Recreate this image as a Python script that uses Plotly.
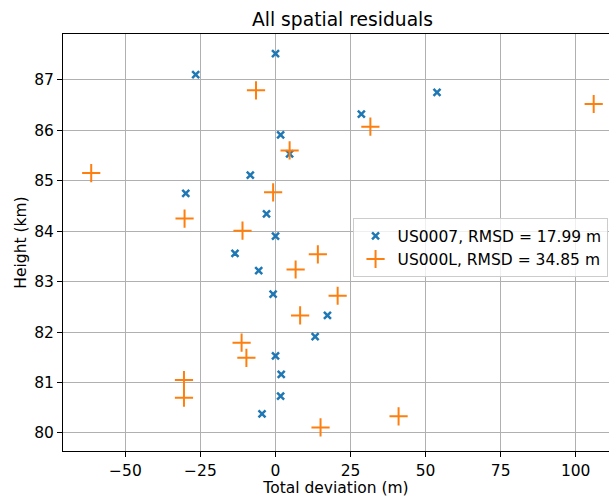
import plotly.graph_objects as go

# US0007 (blue x markers)
us0007_dev = [0.0, -26.6, 53.8, 28.6, 1.7, 4.7, -8.4, -29.9, -3.0, 0.0,
              -13.5, -5.6, -0.8, 17.3, 13.2, 0.0, 1.9, 1.7, -4.5]
us0007_h = [87.52, 87.10, 86.75, 86.32, 85.91, 85.53, 85.11, 84.75, 84.34, 83.90,
            83.56, 83.22, 82.75, 82.33, 81.91, 81.53, 81.16, 80.73, 80.38]

# US000L (orange + markers)
us000l_dev = [-6.5, 106.0, 31.6, 4.7, -61.4, -0.8, -30.3, -11.0,
              14.1, 6.7, 20.7, 8.2, -11.3, -9.7, -30.5, -30.5, 41.0, 15.0]
us000l_h = [86.79, 86.52, 86.07, 85.60, 85.15, 84.77, 84.25, 84.01,
            83.54, 83.24, 82.72, 82.33, 81.79, 81.49, 81.05, 80.70, 80.33, 80.11]

names = ["US0007, RMSD = 17.99 m", "US000L, RMSD = 34.85 m"]
x_ticks = [-50, -25, 0, 25, 50, 75, 100]
y_ticks = [80, 81, 82, 83, 84, 85, 86, 87]

FONT = "DejaVu Sans"
W, H = 609, 497
L, R, T, B = 63.3, 0, 34.3, 46.3

fig = go.Figure()
fig.add_trace(go.Scatter(
    x=us0007_dev, y=us0007_h, mode="markers", name=names[0],
    marker=dict(symbol="x-thin", size=7, color="#1f77b4",
                line=dict(width=2.5, color="#1f77b4")),
))
fig.add_trace(go.Scatter(
    x=us000l_dev, y=us000l_h, mode="markers", name=names[1],
    marker=dict(symbol="cross-thin", size=13, color="#ff7f0e",
                line=dict(width=2, color="#ff7f0e")),
))

plot_w = W - L - R
plot_h = H - T - B

fig.update_layout(
    width=W, height=H,
    margin=dict(l=L, r=R, t=T, b=B, pad=0),
    paper_bgcolor="white", plot_bgcolor="white",
    font=dict(family=FONT, size=15.5, color="black"),
    title=dict(text="All spatial residuals", font=dict(size=18.7, color="black"),
               x=342.5 / W, xanchor="center", xref="container",
               y=1 - 19.5 / H, yanchor="middle", yref="container"),
    showlegend=True,
    legend=dict(x=(352.7 - L) / plot_w, y=(H - B - 218.3) / plot_h,
                xanchor="left", yanchor="top",
                bgcolor="rgba(255,255,255,0.8)", bordercolor="#cccccc",
                borderwidth=1, font=dict(size=15.5, color="black"),
                tracegroupgap=0, itemwidth=34),
)
fig.update_xaxes(
    range=[-70.8, 111.1], tickvals=x_ticks, ticks="outside", ticklen=5,
    tickwidth=1, tickcolor="black", showline=True, linecolor="black",
    linewidth=1, mirror=True, showgrid=True, gridcolor="#b0b0b0", gridwidth=1,
    zeroline=False,
    title=dict(text="Total deviation (m)", standoff=6,
               font=dict(size=15.5, color="black")),
    tickfont=dict(size=15.5, color="black"),
    automargin=False,
)
fig.update_yaxes(
    range=[79.643, 87.907], tickvals=y_ticks, ticks="outside", ticklen=5,
    tickwidth=1, tickcolor="black", showline=True, linecolor="black",
    linewidth=1, mirror=False, showgrid=True, gridcolor="#b0b0b0", gridwidth=1,
    zeroline=False,
    title=dict(text="Height (km)", standoff=3,
               font=dict(size=15.5, color="black")),
    tickfont=dict(size=15.5, color="black"),
    automargin=False,
)

fig.write_html(
    "out.html",
    config={"displayModeBar": False},
    post_script="document.body.style.margin='0';document.body.style.overflow='hidden';",
)
